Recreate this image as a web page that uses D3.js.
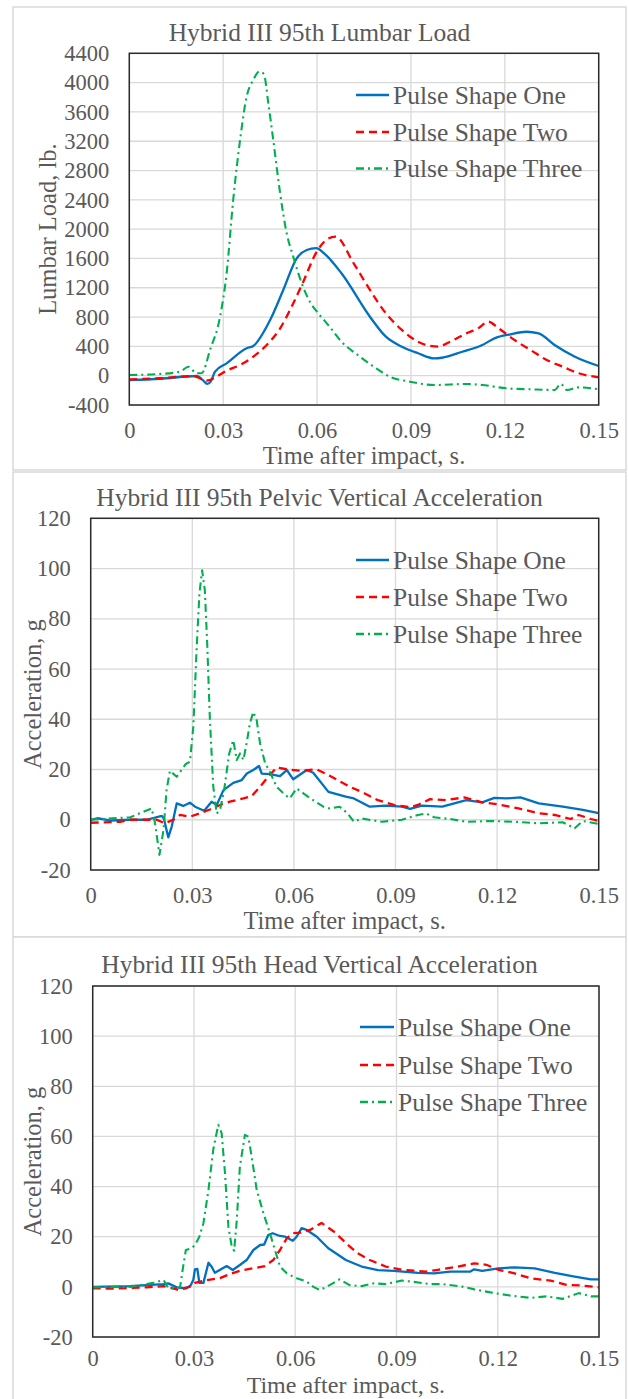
<!DOCTYPE html>
<html><head><meta charset="utf-8">
<script src="https://cdn.jsdelivr.net/npm/d3@7"></script>
<style>
html,body{margin:0;padding:0;background:#fff;}
svg{display:block;}
svg text{font-family:"Liberation Serif","Times New Roman",serif !important;fill:#595959;}
</style></head>
<body>
<svg id="chart" width="629" height="1399"></svg>
<script>
// ---------- data ----------
const seriesNames = ["Pulse Shape One", "Pulse Shape Two", "Pulse Shape Three"];
const xTicks = [0, 0.03, 0.06, 0.09, 0.12, 0.15];
const xTickLabels = ["0", "0.03", "0.06", "0.09", "0.12", "0.15"];
const lumbarTicks = [-400, 0, 400, 800, 1200, 1600, 2000, 2400, 2800, 3200, 3600, 4000, 4400];
const accelTicks = [-20, 0, 20, 40, 60, 80, 100, 120];
const titles = ["Hybrid III 95th Lumbar Load", "Hybrid III 95th Pelvic Vertical Acceleration", "Hybrid III 95th Head Vertical Acceleration"];
const yTitles = ["Lumbar Load, lb.", "Acceleration, g", "Acceleration, g"];
const xTitle = "Time after impact, s.";

const lumbarOne = [[0,-60],[0.01,-42],[0.0215,-4],[0.0235,-60],[0.0249,-113],[0.026,-80],[0.0274,55],[0.0311,169],[0.0375,374],[0.0396,405],[0.045,760],[0.0492,1170],[0.0535,1602],[0.0567,1715],[0.0597,1740],[0.0625,1660],[0.0678,1398],[0.0769,805],[0.082,532],[0.0871,396],[0.0923,306],[0.0974,237],[0.0999,245],[0.1064,327],[0.1128,419],[0.1167,510],[0.1218,565],[0.1269,600],[0.1308,578],[0.1359,419],[0.1424,259],[0.15,132]];
const lumbarTwo = [[0,-49],[0.01,-35],[0.0205,-4],[0.0247,-68],[0.0279,-14],[0.0311,68],[0.0354,146],[0.0396,259],[0.0439,419],[0.0482,646],[0.0524,988],[0.0556,1283],[0.0599,1692],[0.0635,1870],[0.0659,1897],[0.0717,1534],[0.0769,1170],[0.082,851],[0.0871,624],[0.0897,532],[0.0948,419],[0.0987,396],[0.1025,464],[0.1077,578],[0.1115,647],[0.1147,737],[0.118,647],[0.1231,487],[0.1282,351],[0.1334,214],[0.1385,123],[0.1436,33],[0.15,-22]];
const lumbarThree = [[0,9],[0.0098,23],[0.0162,55],[0.0189,123],[0.0215,33],[0.0231,33],[0.0258,351],[0.029,805],[0.0311,1397],[0.0332,2398],[0.0354,3217],[0.0375,3808],[0.0396,4036],[0.0415,4149],[0.043,4118],[0.0444,3727],[0.046,3217],[0.0482,2489],[0.0503,1943],[0.0524,1624],[0.0551,1261],[0.0577,1010],[0.0604,851],[0.064,669],[0.0678,464],[0.073,282],[0.0781,123],[0.0833,-14],[0.0897,-82],[0.0974,-127],[0.1077,-113],[0.1128,-127],[0.1205,-172],[0.1282,-186],[0.1359,-195],[0.1379,-113],[0.1398,-195],[0.1436,-159],[0.15,-186]];

const pelvicOne = [[0,0],[0.002,0.6],[0.006,-0.3],[0.0116,0],[0.0165,0],[0.021,1.5],[0.0216,0.5],[0.0229,-7],[0.0239,-2.8],[0.0254,6.5],[0.0273,5.5],[0.0293,6.8],[0.0308,5.2],[0.0335,3.6],[0.0357,7.2],[0.0372,5.9],[0.0392,11.8],[0.0421,14.7],[0.0446,15.8],[0.0461,18.4],[0.048,19.8],[0.0497,21.4],[0.0505,18.4],[0.0529,18.2],[0.0559,17.4],[0.0579,19.8],[0.0598,16.1],[0.0638,19.8],[0.0657,18.7],[0.0702,11.1],[0.0753,9.2],[0.0777,8.5],[0.0824,5.2],[0.0871,5.6],[0.0919,5.2],[0.0943,4.3],[0.0978,5.6],[0.1038,5.2],[0.1109,7.8],[0.1156,6.9],[0.1192,8.7],[0.1227,8.5],[0.1269,8.9],[0.1323,6.5],[0.1394,5.2],[0.1453,3.9],[0.15,2.6]];
const pelvicTwo = [[0,-1.2],[0.0087,-0.8],[0.0116,0],[0.0195,0],[0.0219,-1.4],[0.0244,0],[0.0264,1.9],[0.0293,1.2],[0.0323,2.6],[0.0352,4.1],[0.0382,5.9],[0.0411,7.2],[0.0451,8.5],[0.0475,9.4],[0.05,13.1],[0.052,16.5],[0.0549,20.8],[0.0579,20.1],[0.0618,19.5],[0.0667,20.1],[0.0702,17.8],[0.0765,13.1],[0.08,11.1],[0.0848,7.8],[0.0895,5.9],[0.0943,5.0],[0.0966,5.9],[0.1002,8.2],[0.1049,7.8],[0.1103,8.9],[0.1156,6.9],[0.1204,6.1],[0.1263,4.5],[0.1323,2.6],[0.137,1.9],[0.1417,0.3],[0.1441,1.9],[0.1477,0.3],[0.15,-0.5]];
const pelvicThree = [[0,0],[0.0117,1.0],[0.018,4.5],[0.019,-1.4],[0.0203,-14],[0.0215,-4],[0.0224,11.8],[0.0234,19.5],[0.0254,17.1],[0.0269,20],[0.0281,22.2],[0.0293,23.1],[0.0303,37],[0.0313,68.8],[0.0321,90],[0.0329,99.3],[0.0337,91.4],[0.0344,70.2],[0.0352,39.7],[0.0362,13.1],[0.0372,2.5],[0.0382,3.9],[0.0394,11.8],[0.0409,26.4],[0.0421,31.7],[0.0431,23.8],[0.0441,26.4],[0.0451,23.8],[0.0461,31],[0.047,38.3],[0.048,42.9],[0.049,39.7],[0.05,30.4],[0.0515,22.5],[0.0529,19.1],[0.0549,13.1],[0.0569,10.5],[0.0588,8.5],[0.0608,12.5],[0.0628,10.5],[0.0657,7.8],[0.0687,5.2],[0.0705,4.5],[0.0735,5.2],[0.0759,2.5],[0.0777,-0.8],[0.08,0.5],[0.0859,-0.8],[0.0919,0],[0.0966,1.9],[0.099,2.5],[0.1014,1.0],[0.1061,0.3],[0.1109,-0.8],[0.118,-0.5],[0.1251,-0.8],[0.1323,-1.4],[0.1394,-1.0],[0.1429,-3.4],[0.1453,-0.5],[0.15,-1.7]];

const headOne = [[0,0],[0.011,0.3],[0.021,1.1],[0.0224,1.4],[0.0249,-0.2],[0.0269,-0.5],[0.0288,0],[0.0298,2.7],[0.0303,7],[0.031,7.2],[0.0316,1.6],[0.0328,1.6],[0.0343,9.6],[0.0352,8.1],[0.0362,5.6],[0.0397,8.3],[0.0415,6.7],[0.0436,8.7],[0.0456,10.7],[0.0476,14.7],[0.0496,16.7],[0.0508,16.9],[0.052,20.7],[0.0533,21.4],[0.0555,20.3],[0.057,20],[0.0593,18.4],[0.0604,20],[0.0619,23.4],[0.0634,22.7],[0.0664,20],[0.0698,15.4],[0.075,10.7],[0.0773,9.4],[0.0797,8.1],[0.0845,6.7],[0.0892,6.4],[0.0964,5.6],[0.1011,5.4],[0.1059,6.1],[0.1119,6.1],[0.113,7],[0.1154,6.4],[0.1202,7.4],[0.125,7.8],[0.1309,7.4],[0.1369,5.6],[0.1428,4.1],[0.1476,3],[0.15,3]];
const headTwo = [[0,-0.6],[0.0061,-0.7],[0.016,-0.2],[0.021,0.3],[0.0244,-0.8],[0.0254,-1.3],[0.0278,-0.5],[0.0303,1.6],[0.0338,2.7],[0.0377,3.5],[0.0407,5.1],[0.0436,6.4],[0.0476,7.4],[0.051,8.3],[0.0535,10.7],[0.0555,14.7],[0.0575,19.4],[0.0594,21.4],[0.0614,21.6],[0.0644,22.7],[0.0678,25.5],[0.0714,22.1],[0.075,17.5],[0.0785,13.4],[0.0821,10.7],[0.0868,8.1],[0.0916,6.8],[0.0988,6.1],[0.1023,6.8],[0.1071,7.8],[0.1131,9.4],[0.1166,8.8],[0.1202,6.8],[0.125,5.4],[0.1297,3.4],[0.1357,2.5],[0.1404,0.8],[0.1452,0.5],[0.15,-0.2]];
const headThree = [[0,-0.2],[0.011,0],[0.018,1.6],[0.021,2.7],[0.0224,-0.5],[0.0244,-0.8],[0.0259,0],[0.0268,8.1],[0.0276,14.7],[0.0293,15.4],[0.0303,16.7],[0.0316,20],[0.0328,25.4],[0.0343,38.6],[0.0357,54.6],[0.0372,64.6],[0.0382,61.3],[0.0392,45.3],[0.0402,24],[0.0412,16],[0.0419,14.4],[0.0427,26.7],[0.0436,48],[0.0451,60.6],[0.0461,59.9],[0.0471,51.9],[0.0486,38.6],[0.0506,29.3],[0.0525,21.4],[0.054,14.7],[0.0555,8.1],[0.0575,5.4],[0.0604,3.4],[0.0634,2.1],[0.0654,0],[0.0673,-1.3],[0.0702,0.7],[0.0731,3],[0.0761,0.7],[0.0797,0.3],[0.0833,1.4],[0.0868,1.1],[0.0916,2.5],[0.0952,2.0],[0.0999,1.1],[0.1035,1.1],[0.1095,0.1],[0.1131,-1.0],[0.1178,-2.2],[0.1238,-3.5],[0.1297,-4.4],[0.1345,-3.8],[0.1392,-4.8],[0.144,-2.5],[0.1476,-3.8],[0.15,-3.8]];

// ---------- layout / style ----------
const colors = ["#0070C0", "#FF0000", "#00B050"];
const dashes = [null, "8,5", "8,4,2,4"];
const widths = [2.3, 2.3, 2.1];
const FONT = "'Liberation Serif', 'Times New Roman', serif";

const panels = [
  {box:[13,7,626,470], plot:[129.3,53.3,598.7,405], yDomain:[-400,4400], yTicks:lumbarTicks,
   series:[lumbarOne,lumbarTwo,lumbarThree], yTitleX:56, xPad:17, xTitleDy:59, xTitleSize:24.5, legend:{x1:356,x2:389,tx:393,rows:[95,132,168.5]}, curve:d3.curveMonotoneX},
  {box:[13,472,626,937], plot:[90.7,518.3,598.7,870], yDomain:[-20,120], yTicks:accelTicks,
   series:[pelvicOne,pelvicTwo,pelvicThree], yTitleX:41, xPad:17, xTitleDy:59, xTitleSize:24.5, legend:{x1:356,x2:389,tx:393,rows:[560,597,634]}, curve:d3.curveLinear},
  {box:[13,937,626,1410], plot:[92.7,986,599,1337], yDomain:[-20,120], yTicks:accelTicks,
   series:[headOne,headTwo,headThree], yTitleX:41, xPad:13.5, xTitleDy:56, xTitleSize:24, legend:{x1:360,x2:394,tx:398,rows:[1027,1065,1102]}, curve:d3.curveLinear}
];

const svg = d3.select("#chart");

function styleText(sel, size) {
  sel.style("font-family", FONT).style("font-size", size + "px").style("fill", "#595959");
}

panels.forEach((p, pi) => {
  const [bx0, by0, bx1, by1] = p.box;
  const [L, T, R, B] = p.plot;
  const g = svg.append("g");

  g.append("rect").attr("x", bx0).attr("y", by0).attr("width", bx1 - bx0).attr("height", by1 - by0)
    .attr("fill", "#fff").attr("stroke", "#D9D9D9").attr("stroke-width", 1.5);

  const x = d3.scaleLinear().domain([0, 0.15]).range([L, R]);
  const y = d3.scaleLinear().domain(p.yDomain).range([B, T]);

  g.append("g").selectAll("line").data(p.yTicks).join("line")
    .attr("x1", L).attr("x2", R).attr("y1", d => y(d)).attr("y2", d => y(d))
    .attr("stroke", "#D9D9D9").attr("stroke-width", 1.3);
  g.append("g").selectAll("line").data(xTicks).join("line")
    .attr("y1", T).attr("y2", B).attr("x1", d => x(d)).attr("x2", d => x(d))
    .attr("stroke", "#D9D9D9").attr("stroke-width", 1.3);

  const yAxis = d3.axisLeft(y).tickValues(p.yTicks).tickSize(0).tickPadding(20).tickFormat(d => String(d));
  const ya = g.append("g").attr("transform", `translate(${L},0)`).call(yAxis);
  const xAxis = d3.axisBottom(x).tickValues(xTicks).tickSize(0).tickPadding(p.xPad).tickFormat((d, i) => xTickLabels[i]);
  const xa = g.append("g").attr("transform", `translate(0,${B})`).call(xAxis);
  [ya, xa].forEach(a => {
    a.attr("font-family", null).attr("font-size", null);
    a.select(".domain").remove();
    styleText(a.selectAll("text"), 22.5);
  });

  const clipId = "clip" + pi;
  g.append("clipPath").attr("id", clipId).append("rect").attr("x", L).attr("y", T - 2).attr("width", R - L).attr("height", B - T + 4);
  const line = d3.line().x(d => x(d[0])).y(d => y(d[1])).curve(p.curve);
  p.series.forEach((s, si) => {
    g.append("path").attr("d", line(s)).attr("fill", "none")
      .attr("stroke", colors[si]).attr("stroke-width", widths[si])
      .attr("stroke-dasharray", dashes[si]).attr("stroke-linejoin", "round")
      .attr("clip-path", `url(#${clipId})`);
  });

  g.append("rect").attr("x", L).attr("y", T).attr("width", R - L).attr("height", B - T)
    .attr("fill", "none").attr("stroke", "#2b2b2b").attr("stroke-width", 1.5);

  styleText(g.append("text").attr("x", (bx0 + bx1) / 2).attr("y", by0 + (pi === 2 ? 35.5 : 34))
    .attr("text-anchor", "middle").text(titles[pi]), 25.5);

  styleText(g.append("text").attr("x", (L + R) / 2).attr("y", B + p.xTitleDy)
    .attr("text-anchor", "middle").text(xTitle), p.xTitleSize);

  styleText(g.append("text").attr("transform", `translate(${p.yTitleX},${(T + B) / 2}) rotate(-90)`)
    .attr("text-anchor", "middle").text(yTitles[pi]), 24.5);

  const lg = p.legend;
  seriesNames.forEach((name, si) => {
    const yy = lg.rows[si];
    g.append("line").attr("x1", lg.x1).attr("x2", lg.x2).attr("y1", yy).attr("y2", yy)
      .attr("stroke", colors[si]).attr("stroke-width", widths[si] + 0.2).attr("stroke-dasharray", dashes[si]);
    styleText(g.append("text").attr("x", lg.tx).attr("y", yy + 8.5).text(name), 25.5);
  });
});
</script>
</body></html>
